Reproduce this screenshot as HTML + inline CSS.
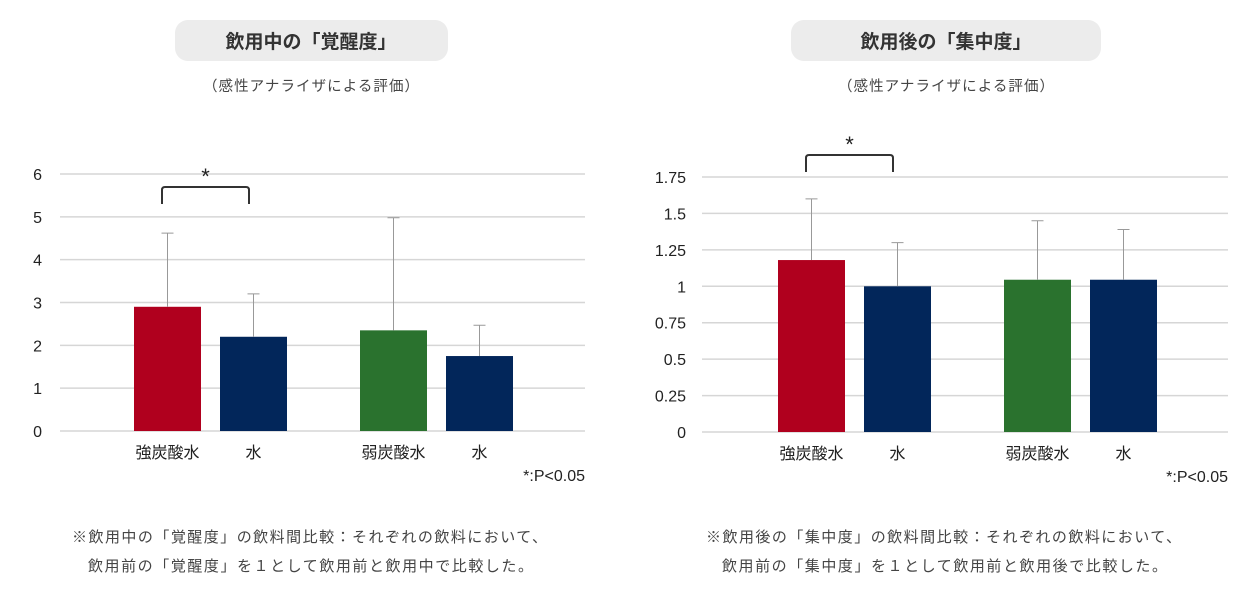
<!DOCTYPE html>
<html><head><meta charset="utf-8"><style>
body{margin:0;background:#fff;}
svg{display:block;font-family:"Liberation Sans","Noto Sans CJK JP",sans-serif;}
</style></head><body>
<svg id="s" width="1252" height="593" viewBox="0 0 1252 593">
<rect x="175" y="20" width="273" height="41" rx="13" fill="#ececec"/>
<text x="311" y="48" text-anchor="middle" font-size="19" font-weight="bold" fill="#333">飲用中の「覚醒度」</text>
<text x="311" y="91" text-anchor="middle" font-size="14.5" fill="#444" textLength="216">（感性アナライザによる評価）</text>
<rect x="791" y="20" width="310" height="41" rx="13" fill="#ececec"/>
<text x="946" y="48" text-anchor="middle" font-size="19" font-weight="bold" fill="#333">飲用後の「集中度」</text>
<text x="946" y="91" text-anchor="middle" font-size="14.5" fill="#444" textLength="216">（感性アナライザによる評価）</text>
<text x="72" y="542" font-size="15" fill="#444" textLength="475">※飲用中の「覚醒度」の飲料間比較：それぞれの飲料において、</text>
<text x="88" y="571" font-size="15" fill="#444" textLength="445">飲用前の「覚醒度」を１として飲用前と飲用中で比較した。</text>
<text x="706" y="542" font-size="15" fill="#444" textLength="475">※飲用後の「集中度」の飲料間比較：それぞれの飲料において、</text>
<text x="722" y="571" font-size="15" fill="#444" textLength="445">飲用前の「集中度」を１として飲用前と飲用後で比較した。</text>
<g id="left"></g>
<g id="right"></g>
</svg>
<script>
const categories = ["強炭酸水","水","弱炭酸水","水"];
const colors = ["#b0001e","#02265a","#2a722e","#02265a"];
const leftValues = [2.9, 2.2, 2.35, 1.75];
const leftErrTop = [4.62, 3.2, 4.98, 2.47];
const leftTicks = [0,1,2,3,4,5,6];
const leftTickLabels = ["0","1","2","3","4","5","6"];
const rightValues = [1.18, 1.0, 1.045, 1.045];
const rightErrTop = [1.6, 1.3, 1.45, 1.39];
const rightTicks = [0,0.25,0.5,0.75,1,1.25,1.5,1.75];
const rightTickLabels = ["0","0.25","0.5","0.75","1","1.25","1.5","1.75"];
const NS="http://www.w3.org/2000/svg";
function mk(g,tag,attrs){const e=document.createElementNS(NS,tag);for(const k in attrs)e.setAttribute(k,attrs[k]);g.appendChild(e);return e;}
function draw(id,cfg){
  const g=document.getElementById(id);
  const y=v=>cfg.y0-(v-cfg.min)/(cfg.max-cfg.min)*(cfg.y0-cfg.y1);
  cfg.ticks.forEach((t,i)=>{
    const l=mk(g,'line',{x1:cfg.gx0,x2:cfg.gx1,y1:y(t),y2:y(t),stroke:'#d6d6d6','stroke-width':1.5});
    
    
    const tx=mk(g,'text',{x:cfg.lx,y:y(t)+6,'text-anchor':cfg.anchor,'font-size':16,fill:'#222'});
    tx.textContent=cfg.labels[i];
    
    
  });
  cfg.vals.forEach((v,i)=>{
    const x=cfg.bx[i];
    const r=mk(g,'rect',{x:x,y:y(v),width:67,height:y(0)-y(v),fill:colors[i]});
    
    
    const cx=x+33.5;
    const e=mk(g,'path',{d:`M${cx},${y(v)}V${y(cfg.err[i])}M${cx-6},${y(cfg.err[i])}H${cx+6}`,stroke:'#999','stroke-width':1,fill:'none'});
    
    
    const c=mk(g,'text',{x:cx,y:cfg.y0+27,'text-anchor':'middle','font-size':16,fill:'#222'});
    c.textContent=categories[i];
    
    
  });
  const b=mk(g,'path',{d:`M${cfg.br[0]},${cfg.br[2]+17}V${cfg.br[2]+3}Q${cfg.br[0]},${cfg.br[2]} ${cfg.br[0]+3},${cfg.br[2]}H${cfg.br[1]-3}Q${cfg.br[1]},${cfg.br[2]} ${cfg.br[1]},${cfg.br[2]+3}V${cfg.br[2]+17}`,stroke:'#333','stroke-width':2,fill:'none'});
  
  
  const s=mk(g,'text',{x:(cfg.br[0]+cfg.br[1])/2,y:cfg.br[2]-3,'text-anchor':'middle','font-size':22,fill:'#222'});
  s.textContent='*';
  
  
  const p=mk(g,'text',{x:cfg.gx1,y:cfg.y0+50,'text-anchor':'end','font-size':16,fill:'#222'});
  p.textContent='*:P<0.05';
  
  
}
draw('left',{y0:431,y1:174,min:0,max:6,gx0:60,gx1:585,lx:42,anchor:'end',ticks:leftTicks,labels:leftTickLabels,vals:leftValues,err:leftErrTop,bx:[134,220,360,446],br:[162,249,187]});
draw('right',{y0:432,y1:177,min:0,max:1.75,gx0:702,gx1:1228,lx:686,anchor:'end',ticks:rightTicks,labels:rightTickLabels,vals:rightValues,err:rightErrTop,bx:[778,864,1004,1090],br:[806,893,155]});
</script>
</body></html>
